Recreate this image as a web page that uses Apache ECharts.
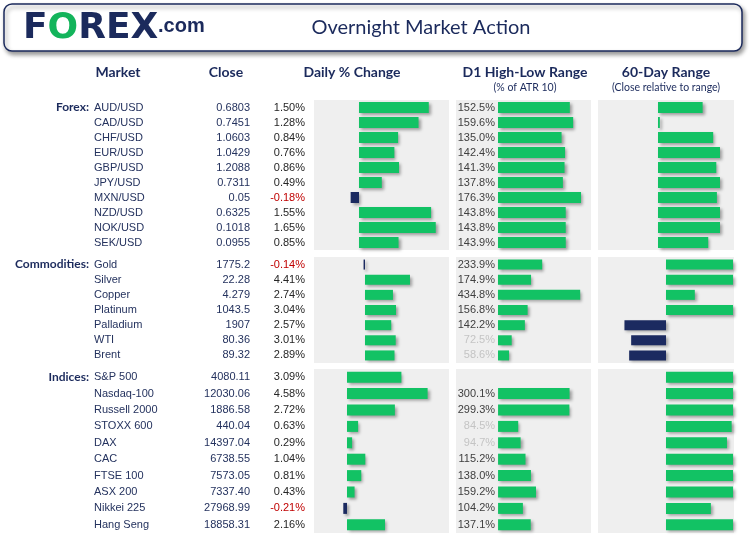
<!DOCTYPE html>
<html><head><meta charset="utf-8">
<script src="https://cdn.jsdelivr.net/npm/echarts@6/dist/echarts.min.js"></script>
<style>html,body{margin:0;padding:0;background:#fff}#c{width:749px;height:536px}</style>
</head><body><div id="c"></div>
<script>
// ---------- DATA ----------
const forexNames = ['AUD/USD','CAD/USD','CHF/USD','EUR/USD','GBP/USD','JPY/USD','MXN/USD','NZD/USD','NOK/USD','SEK/USD'];
const forexClose = ['0.6803','0.7451','1.0603','1.0429','1.2088','0.7311','0.05','0.6325','0.1018','0.0955'];
const forexPct   = [1.50, 1.28, 0.84, 0.76, 0.86, 0.49, -0.18, 1.55, 1.65, 0.85];
const forexD1    = [152.5, 159.6, 135.0, 142.4, 141.3, 137.8, 176.3, 143.8, 143.8, 143.9];
const forexR60   = [0.72, 0.03, 0.89, 1.0, 0.94, 1.0, 0.95, 1.0, 1.0, 0.81];

const commNames = ['Gold','Silver','Copper','Platinum','Palladium','WTI','Brent'];
const commClose = ['1775.2','22.28','4.279','1043.5','1907','80.36','89.32'];
const commPct   = [-0.14, 4.41, 2.74, 3.04, 2.57, 3.01, 2.89];
const commD1    = [233.9, 174.9, 434.8, 156.8, 142.2, 72.5, 58.6];
const commR60   = [1.0, 1.0, 0.43, 1.0, -0.62, -0.52, -0.55];

const idxNames = ['S&P 500','Nasdaq-100','Russell 2000','STOXX 600','DAX','CAC','FTSE 100','ASX 200','Nikkei 225','Hang Seng'];
const idxClose = ['4080.11','12030.06','1886.58','440.04','14397.04','6738.55','7573.05','7337.40','27968.99','18858.31'];
const idxPct   = [3.09, 4.58, 2.72, 0.63, 0.29, 1.04, 0.81, 0.43, -0.21, 2.16];
const idxD1    = [null, 300.1, 299.3, 84.5, 94.7, 115.2, 138.0, 159.2, 104.2, 137.1];
const idxR60   = [1.0, 1.0, 1.0, 0.98, 0.91, 1.0, 1.0, 1.0, 0.67, 1.0];

const sectionLabels = ['Forex:', 'Commodities:', 'Indices:'];
const headers = ['Market', 'Close', 'Daily % Change', 'D1 High-Low Range', '60-Day Range'];
const subHeaders = ['(% of ATR 10)', '(Close relative to range)'];
const titleText = 'Overnight Market Action';

// ---------- LAYOUT / STYLE ----------
const NAVY = '#1b2a5c', GREEN = '#12c264', BARNAVY = '#1b2a60', PANEL = '#efefef';
const sections = [
  {label: sectionLabels[0], names: forexNames, close: forexClose, pct: forexPct, d1: forexD1, r60: forexR60},
  {label: sectionLabels[1], names: commNames, close: commClose, pct: commPct, d1: commD1, r60: commR60},
  {label: sectionLabels[2], names: idxNames, close: idxClose, pct: idxPct, d1: idxD1, r60: idxR60}
];
const rowsLayout = [{top:100,height:150,bar:11},{top:257,height:106,bar:10},{top:369,height:164,bar:11}];
const colsLayout = [{left:314,width:135},{left:456,width:135},{left:598,width:136}];
const axisRanges = [
  [[-0.968,1.935],[-89.2,197.5],[-0.968,1.226]],
  [[-5.0,8.235],[-222,492],[-1.015,1.015]],
  [[-1.875,5.795],[-176.5,390],[-1.015,1.015]]
];
const FONT = "'Liberation Sans', Arial, sans-serif";
const HFONT = "Lato, 'Open Sans', sans-serif";
const shadow = {shadowBlur:3, shadowColor:'rgba(0,0,0,0.35)', shadowOffsetX:2, shadowOffsetY:2};

const grid = [], xAxis = [], yAxis = [], series = [];
const hidden = {axisLine:{show:false}, axisTick:{show:false}, splitLine:{show:false}};

function addLabelAxis(s, sec, axisLabel) {
  const gi = grid.length;
  grid.push({left:colsLayout[0].left, top:rowsLayout[s].top, width:colsLayout[0].width, height:rowsLayout[s].height, show:false});
  xAxis.push(Object.assign({type:'value', gridIndex:gi, show:false}, hidden));
  yAxis.push(Object.assign({type:'category', gridIndex:gi, position:'left', data:sec.names, inverse:true,
    axisLabel:Object.assign({interval:0, fontFamily:FONT, fontSize:11}, axisLabel)}, hidden));
}

sections.forEach((sec, s) => {
  colsLayout.forEach((col, c) => {
    const gi = grid.length;
    grid.push({left:col.left, top:rowsLayout[s].top, width:col.width, height:rowsLayout[s].height,
      show:true, backgroundColor:PANEL, borderWidth:0});
    xAxis.push(Object.assign({type:'value', gridIndex:gi, min:axisRanges[s][c][0], max:axisRanges[s][c][1],
      axisLabel:{show:false}}, hidden));
    const yi = yAxis.length;
    yAxis.push(Object.assign({type:'category', gridIndex:gi, position:'left', data:sec.names, inverse:true,
      axisLabel:{show: c===0, interval:0, margin:9, fontFamily:FONT, fontSize:11,
        formatter:(v,i)=>{const p=sec.pct[i]; return p<0?'{neg|'+p.toFixed(2)+'%}':'{pos|'+p.toFixed(2)+'%}';},
        rich:{neg:{color:'#c00000',fontFamily:FONT,fontSize:11}, pos:{color:'#262626',fontFamily:FONT,fontSize:11}}}}, hidden));
    let data, label = {show:false};
    if (c === 0) {
      data = sec.pct.map(v => ({value:v, itemStyle:{color: v<0?BARNAVY:GREEN}}));
    } else if (c === 1) {
      data = sec.d1.map(v => v==null ? '-' : ({value:v, label:{color: v<100?'#c4c4c4':'#404040'}}));
      label = {show:true, position:'left', distance:3, fontFamily:FONT, fontSize:11,
        formatter:p=>p.value.toFixed(1)+'%'};
    } else {
      data = sec.r60.map(v => ({value:v, itemStyle:{color: v<0?BARNAVY:GREEN}}));
    }
    series.push({type:'bar', xAxisIndex:gi, yAxisIndex:yi, data, barWidth:rowsLayout[s].bar,
      itemStyle:Object.assign({color:GREEN}, shadow), label, silent:true});
  });
  // close values, market names, section label
  addLabelAxis(s, sec, {margin:64, color:'#24325e', formatter:(v,i)=>sec.close[i]});
  addLabelAxis(s, sec, {margin:220, align:'left', color:'#24325e'});
  addLabelAxis(s, sec, {margin:225, align:'right', fontFamily:HFONT, fontWeight:'bold', fontSize:12, color:NAVY,
    formatter:(v,i)=> i===0 ? sec.label : ''});
});

const graphic = [
  {type:'rect', shape:{x:4,y:4,width:738,height:47,r:8},
   style:{fill:'#fff', stroke:NAVY, lineWidth:1.5, shadowBlur:4, shadowOffsetX:2, shadowOffsetY:3, shadowColor:'rgba(0,0,0,0.4)'}},
  {type:'text', x:23, y:29, style:{text:'{f|F}{o|O}{f|REX}', verticalAlign:'middle', align:'left',
    rich:{f:{fontFamily:"'DejaVu Sans'", fontWeight:'bold', fontSize:36, fill:NAVY, color:NAVY},
          o:{fontFamily:"'DejaVu Sans'", fontWeight:'bold', fontSize:36, fill:'#13b45b', color:'#13b45b'}}}},
  {type:'text', x:158, y:26, style:{text:'.com', verticalAlign:'middle', align:'left',
    font:"bold 20px 'Liberation Sans', Arial", fill:NAVY}},
  {type:'text', x:421, y:28, style:{text:titleText, align:'center', verticalAlign:'middle',
    font:"20px Lato, 'Open Sans', sans-serif", fill:NAVY}}
];
const hx = [118, 226, 352, 525, 666];
headers.forEach((h,i)=>graphic.push({type:'text', x:hx[i], y:72, style:{text:h, align:'center', verticalAlign:'middle',
  font:"bold 14px Lato, 'Open Sans', sans-serif", fill:NAVY}}));
subHeaders.forEach((h,i)=>graphic.push({type:'text', x:hx[3+i], y:88, style:{text:h, align:'center', verticalAlign:'middle',
  font:"10.5px Lato, 'Open Sans', sans-serif", fill:NAVY}}));

const chart = echarts.init(document.getElementById('c'), null, {renderer:'canvas'});
chart.setOption({animation:false, backgroundColor:'#fff', grid, xAxis, yAxis, series, graphic});
</script></body></html>
